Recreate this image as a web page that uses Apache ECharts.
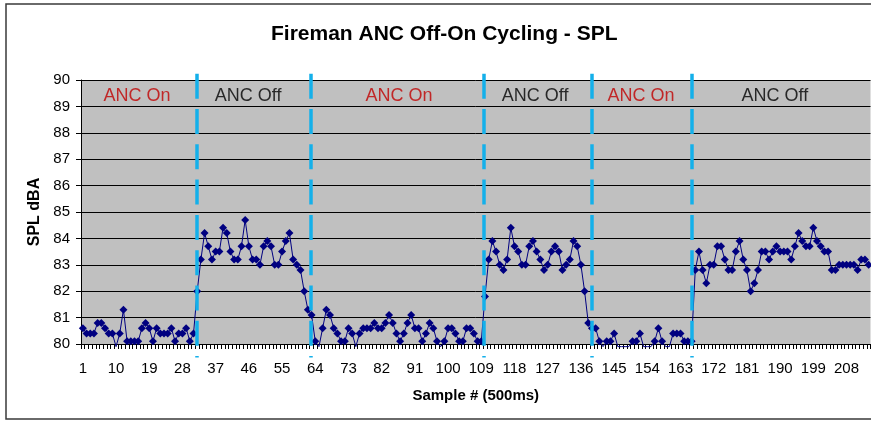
<!DOCTYPE html>
<html>
<head>
<meta charset="utf-8">
<script src="https://cdn.jsdelivr.net/npm/echarts@6/dist/echarts.min.js"></script>
<style>
  html, body { margin: 0; padding: 0; background: #fff; }
  #chart { width: 871px; height: 421px; }
</style>
</head>
<body>
<div id="chart"></div>
<script>
// SPL (dBA) per sample, samples 1..214 (values below 80 dip under the axis)
const splValues = [
  80.6, 80.4, 80.4, 80.4, 80.8, 80.8, 80.6, 80.4, 80.4, 79.9,
  80.4, 81.3, 80.1, 80.1, 80.1, 80.1, 80.6, 80.8, 80.6, 80.1,
  80.6, 80.4, 80.4, 80.4, 80.6, 80.1, 80.4, 80.4, 80.6, 80.1,
  80.4, 82.0, 83.2, 84.2, 83.7, 83.2, 83.5, 83.5, 84.4, 84.2,
  83.5, 83.2, 83.2, 83.7, 84.7, 83.7, 83.2, 83.2, 83.0, 83.7,
  83.9, 83.7, 83.0, 83.0, 83.5, 83.9, 84.2, 83.2, 83.0, 82.8,
  82.0, 81.3, 81.1, 80.1, 79.9, 80.6, 81.3, 81.1, 80.6, 80.4,
  80.1, 80.1, 80.6, 80.4, 79.9, 80.4, 80.6, 80.6, 80.6, 80.8,
  80.6, 80.6, 80.8, 81.1, 80.8, 80.4, 80.1, 80.4, 80.8, 81.1,
  80.6, 80.6, 80.1, 80.4, 80.8, 80.6, 80.1, 79.9, 80.1, 80.6,
  80.6, 80.4, 80.1, 80.1, 80.6, 80.6, 80.4, 80.1, 80.1, 81.8,
  83.2, 83.9, 83.5, 83.0, 82.8, 83.2, 84.4, 83.7, 83.5, 83.0,
  83.0, 83.7, 83.9, 83.5, 83.2, 82.8, 83.0, 83.5, 83.7, 83.5,
  82.8, 83.0, 83.2, 83.9, 83.7, 83.0, 82.0, 80.8, 80.6, 80.6,
  80.1, 79.9, 80.1, 80.1, 80.4, 79.9, 79.9, 79.9, 79.9, 80.1,
  80.1, 80.4, 79.9, 79.9, 79.9, 80.1, 80.6, 80.1, 79.9, 79.9,
  80.4, 80.4, 80.4, 80.1, 80.1, 80.1, 82.8, 83.5, 82.8, 82.3,
  83.0, 83.0, 83.7, 83.7, 83.2, 82.8, 82.8, 83.5, 83.9, 83.2,
  82.8, 82.0, 82.3, 82.8, 83.5, 83.5, 83.2, 83.5, 83.7, 83.5,
  83.5, 83.5, 83.2, 83.7, 84.2, 83.9, 83.7, 83.7, 84.4, 83.9,
  83.7, 83.5, 83.5, 82.8, 82.8, 83.0, 83.0, 83.0, 83.0, 83.0,
  82.8, 83.2, 83.2, 83.0
];
// Sample numbers (category labels)
const sampleNumbers = splValues.map((_, i) => String(i + 1));
// ANC switch points, in sample units
const dividerPositions = [32.0, 62.9, 109.8, 139.0, 166.1];
// Section captions and their centres, in sample units
const sectionLabels = ['ANC On', 'ANC Off', 'ANC On', 'ANC Off', 'ANC On', 'ANC Off'];
const sectionCenters = [15.7, 45.8, 86.7, 123.6, 152.3, 188.6];
const sectionLabelLevel = 89.4;

const FONT = 'Liberation Sans, Arial, sans-serif';
const chart = echarts.init(document.getElementById('chart'), null, { renderer: 'canvas' });

const lineData = splValues.map(v => v < 80 ? { value: v, symbol: 'none' } : v);

chart.setOption({
  animation: false,
  backgroundColor: '#fff',
  textStyle: { fontFamily: FONT, color: '#000' },
  title: {
    text: 'Fireman ANC Off-On Cycling - SPL',
    left: 266,
    top: 19,
    textStyle: { fontFamily: FONT, fontSize: 21, fontWeight: 'bold', color: '#000' }
  },
  graphic: [{
    type: 'rect', z: -10, silent: true,
    shape: { x: 6, y: 4, width: 900, height: 415 },
    style: { fill: 'none', stroke: '#3a3a3a', lineWidth: 1.5 }
  }],
  grid: [
    { left: 81, right: 0.5, top: 80, bottom: 77, show: true, backgroundColor: '#C0C0C0', borderWidth: 0 },
    { left: 81, right: 0.5, top: 73.7, bottom: 63.5, show: false }
  ],
  xAxis: [
    {
      type: 'category', gridIndex: 0, data: sampleNumbers, boundaryGap: true,
      axisLine: { show: true, lineStyle: { color: '#000', width: 1 } },
      axisTick: { show: true, interval: 0, length: 5, lineStyle: { color: '#000' } },
      axisLabel: { interval: 8, margin: 17, fontSize: 15, color: '#000', fontFamily: FONT },
      splitLine: { show: false },
      name: 'Sample # (500ms)', nameLocation: 'middle', nameGap: 44,
      nameTextStyle: { fontFamily: FONT, fontSize: 15, fontWeight: 'bold', color: '#000' }
    },
    { type: 'value', gridIndex: 0, min: 0.5, max: 214.5, show: false },
    { type: 'value', gridIndex: 1, min: 0.5, max: 214.5, show: false }
  ],
  yAxis: [
    {
      type: 'value', gridIndex: 0, min: 80, max: 90, interval: 1,
      axisLine: { show: true, lineStyle: { color: '#000', width: 1 } },
      axisTick: { show: true, length: 5, lineStyle: { color: '#000' } },
      axisLabel: { margin: 11, fontSize: 15, color: '#000', fontFamily: FONT },
      splitLine: { show: true, lineStyle: { color: '#000', width: 1 } },
      name: 'SPL dBA', nameLocation: 'middle', nameGap: 38, nameRotate: 90,
      nameTextStyle: { fontFamily: FONT, fontSize: 16, fontWeight: 'bold', color: '#000' }
    },
    { type: 'value', gridIndex: 1, min: 0, max: 1, show: false }
  ],
  series: [
    {
      type: 'line', xAxisIndex: 0, yAxisIndex: 0,
      data: lineData,
      clip: false,
      showSymbol: true, showAllSymbol: true,
      symbol: 'diamond', symbolSize: 8,
      itemStyle: { color: '#000080' },
      lineStyle: { color: '#000080', width: 1 },
      z: 3
    },
    {
      type: 'scatter', xAxisIndex: 1, yAxisIndex: 0,
      symbolSize: 0, silent: true,
      data: sectionCenters.map((c, i) => ({
        value: [c, sectionLabelLevel],
        label: { color: sectionLabels[i] === 'ANC On' ? '#C00000' : '#000' }
      })),
      label: {
        show: true, position: 'inside', fontSize: 18, fontFamily: FONT,
        formatter: p => sectionLabels[p.dataIndex]
      },
      z: 4
    },
    {
      type: 'scatter', xAxisIndex: 2, yAxisIndex: 1,
      symbolSize: 0, silent: true,
      data: dividerPositions.map(x => [x, 0]),
      markLine: {
        silent: true, symbol: 'none', animation: false,
        label: { show: false },
        lineStyle: { color: '#14B0EA', width: 3.5, type: [25, 10.3], opacity: 1 },
        emphasis: { disabled: true },
        data: dividerPositions.map(x => [{ coord: [x, 1] }, { coord: [x, 0] }])
      },
      z: 5
    }
  ]
});
</script>
</body>
</html>
